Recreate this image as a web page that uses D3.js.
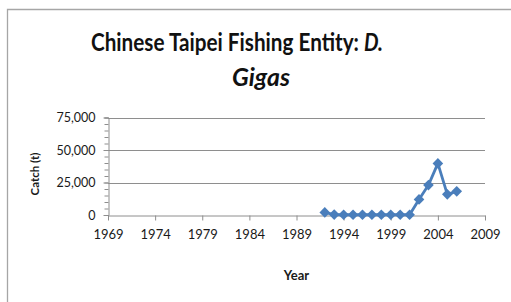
<!DOCTYPE html>
<html>
<head>
<meta charset="utf-8">
<script src="https://cdn.jsdelivr.net/npm/d3@7"></script>
<style>
  body { margin: 0; background: #fff; }
  svg { display: block; font-family: Lato, "Open Sans", sans-serif; }
</style>
</head>
<body>
<div id="chart"></div>
<script>
const WIDTH = 511;
const HEIGHT = 302;

// catch of D. gigas by year (t)
const years = [1992, 1993, 1994, 1995, 1996, 1997, 1998, 1999, 2000, 2001, 2002, 2003, 2004, 2005, 2006];
const catchTonnes = [2000, 300, 200, 200, 200, 200, 200, 200, 200, 200, 12000, 23000, 39700, 15900, 18200];
const xTickValues = [1969, 1974, 1979, 1984, 1989, 1994, 1999, 2004, 2009];
const yTickValues = [0, 25000, 50000, 75000];
const yMinorValues = d3.range(0, 75001, 5000);

const plot = { left: 108, right: 485, top: 117.5, bottom: 215 };
const blue = "#4a7ebb";
const grey = "#8e8e8e";

const svg = d3.select("#chart")
  .append("svg")
  .attr("width", WIDTH)
  .attr("height", HEIGHT)
  .attr("viewBox", [0, 0, WIDTH, HEIGHT]);

svg.append("rect").attr("width", WIDTH).attr("height", HEIGHT).attr("fill", "#fff");

// chart-area border (only top and left show in the crop)
svg.append("path")
  .attr("d", `M7.5,${HEIGHT} V9.5 H${WIDTH}`)
  .attr("fill", "none")
  .attr("stroke", "#a6a6a6")
  .attr("stroke-width", 1.3);

const x = d3.scaleLinear().domain([1969, 2009]).range([plot.left, plot.right]);
const y = d3.scaleLinear().domain([0, 75000]).range([plot.bottom, plot.top]);

// gridlines
svg.append("g")
  .selectAll("line")
  .data(yTickValues.filter(d => d > 0))
  .join("line")
  .attr("x1", plot.left)
  .attr("x2", plot.right)
  .attr("y1", d => Math.round(y(d)) + 0.5)
  .attr("y2", d => Math.round(y(d)) + 0.5)
  .attr("stroke", grey)
  .attr("stroke-width", 1);

// y axis with minor ticks
const yAxisMinor = d3.axisLeft(y).tickValues(yMinorValues).tickSize(4).tickFormat("");
svg.append("g")
  .attr("transform", `translate(${plot.left + 0.5},0)`)
  .call(yAxisMinor)
  .call(g => g.selectAll("line, path").attr("stroke", grey));

const yAxis = d3.axisLeft(y)
  .tickValues(yTickValues)
  .tickSize(5)
  .tickPadding(8)
  .tickFormat(d3.format(","));
svg.append("g")
  .attr("transform", `translate(${plot.left + 0.5},0)`)
  .call(yAxis)
  .call(g => g.select(".domain").remove())
  .call(g => g.selectAll("line").attr("stroke", grey))
  .call(g => g.selectAll("text").attr("fill", "#1a1a1a").style("font-size", "12.5px").style("font-family", "Lato"));

// x axis
const xAxis = d3.axisBottom(x)
  .tickValues(xTickValues)
  .tickSize(5)
  .tickSizeOuter(0)
  .tickPadding(9)
  .tickFormat(d3.format("d"));
svg.append("g")
  .attr("transform", `translate(0,${Math.round(plot.bottom) + 0.5})`)
  .call(xAxis)
  .call(g => g.selectAll("line, path").attr("stroke", grey))
  .call(g => g.selectAll("text").attr("fill", "#1a1a1a").style("font-size", "13px").style("font-family", "Lato"));

// series
const series = years.map((yr, i) => ({ year: yr, value: catchTonnes[i] }));

svg.append("path")
  .datum(series)
  .attr("fill", "none")
  .attr("stroke", blue)
  .attr("stroke-width", 2.8)
  .attr("stroke-linejoin", "round")
  .attr("d", d3.line().x(d => x(d.year)).y(d => y(d.value)));

const diamond = d3.symbol().type(d3.symbolDiamond2).size(72);
svg.append("g")
  .selectAll("path")
  .data(series)
  .join("path")
  .attr("transform", d => `translate(${x(d.year)},${y(d.value)})`)
  .attr("d", diamond)
  .attr("fill", blue);

// axis titles
svg.append("text")
  .attr("x", (plot.left + plot.right) / 2)
  .attr("y", 280)
  .attr("text-anchor", "middle")
  .style("font-size", "13px")
  .style("font-weight", "bold")
  .attr("fill", "#1a1a1a")
  .text("Year");

svg.append("text")
  .attr("transform", "translate(39,174) rotate(-90)")
  .attr("text-anchor", "middle")
  .style("font-size", "11.5px")
  .style("font-weight", "bold")
  .attr("fill", "#1a1a1a")
  .text("Catch (t)");

// title, two lines; Lato is wider than the original face, so squeeze horizontally
function squeezedText(str, x0, y0, width, italic, anchorMiddle) {
  const t = svg.append("text")
    .style("font-size", "24px")
    .style("font-weight", "bold")
    .style("font-style", italic ? "italic" : "normal")
    .attr("fill", "#111")
    .text(str);
  const natural = t.node().getComputedTextLength();
  const k = width / natural;
  const left = anchorMiddle ? x0 - width / 2 : x0;
  t.attr("transform", `translate(${left},${y0}) scale(${k},1)`);
  return t;
}

squeezedText("Chinese Taipei Fishing Entity:", 91, 51, 268, false, false);
squeezedText("D.", 364, 51, 19, true, false);
squeezedText("Gigas", 261, 86, 58, true, true);
</script>
</body>
</html>
